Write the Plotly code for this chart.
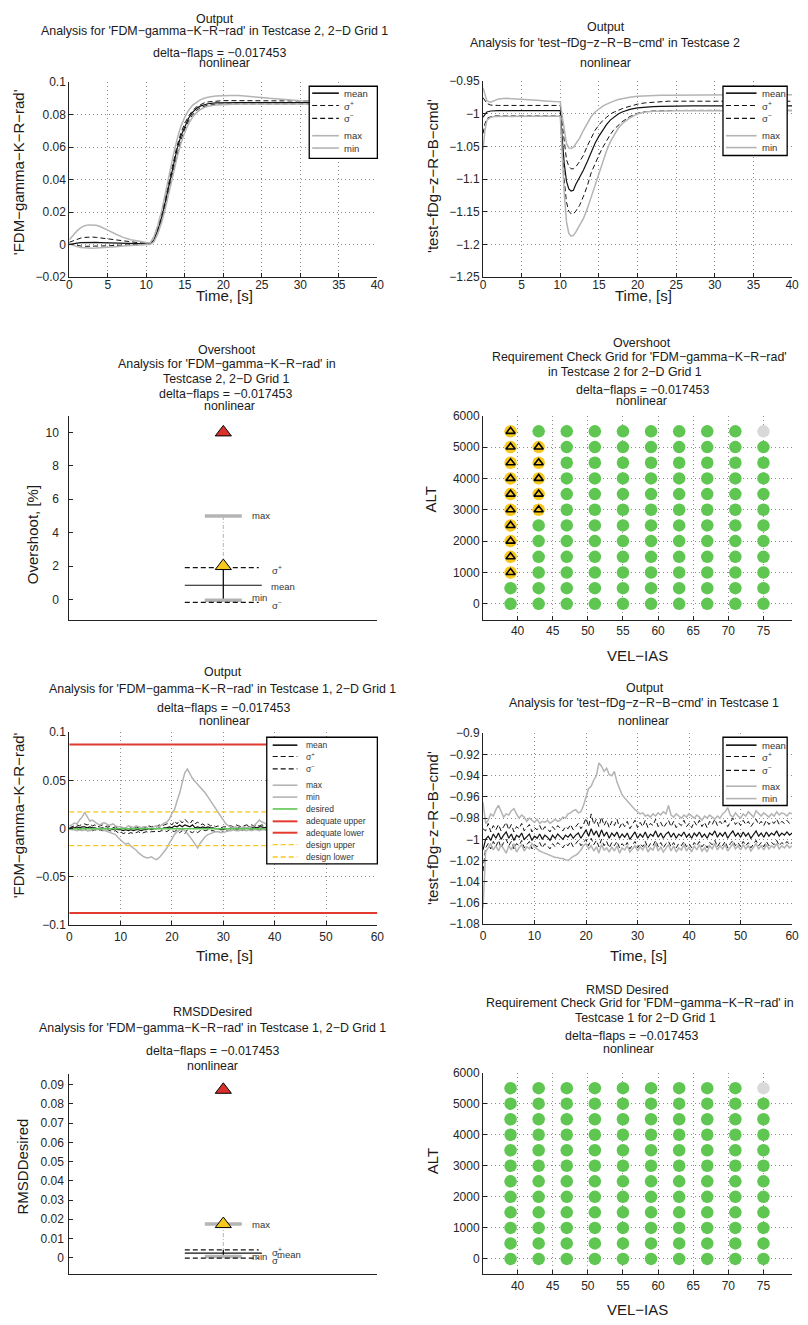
import plotly.graph_objects as go

# The page body has an 8px margin: the figure is sized so that, placed at (8, 8),
# it fills the 808x1325 window exactly.
OFF = 8
W, H = 808 - OFF, 1325 - OFF
FONT = "Liberation Sans, Arial, Helvetica, sans-serif"

# ------------------------------------------------------------------ DATA
legend_basic = ["mean", "σ<sup>+</sup>", "σ<sup>−</sup>", "max", "min"]
legend_limits = ["desired", "adequate upper", "adequate lower", "design upper", "design lower"]

# Panel 1: 'FDM-gamma-K-R-rad', Testcase 2
t_tc2_gam = [0, 0.5, 1, 1.5, 2, 2.5, 3, 3.5, 4, 4.5, 5, 6, 7, 8, 9, 10, 10.5, 11, 11.5, 12, 12.5,
             13, 13.5, 14, 14.5, 15, 15.5, 16, 16.5, 17, 17.5, 18, 19, 20, 21, 22, 23, 24, 25, 26,
             27, 28, 30, 32, 34, 36, 38, 40]
gam2_mean = [0.0, 0.0006, 0.001, 0.0013, 0.0014, 0.0015, 0.0015, 0.0014, 0.0013, 0.0012, 0.0011,
             0.0009, 0.0008, 0.0007, 0.0006, 0.0005, 0.0005, 0.003, 0.009, 0.017, 0.027, 0.038,
             0.049, 0.059, 0.067, 0.073, 0.078, 0.0815, 0.0838, 0.0853, 0.0862, 0.0868, 0.0873,
             0.0875, 0.0875, 0.0875, 0.0875, 0.0875, 0.0875, 0.0875, 0.0875, 0.0875, 0.0875,
             0.0875, 0.0875, 0.0875, 0.0875, 0.0875]
gam2_sigp = [0.0015, 0.0025, 0.0034, 0.0041, 0.0045, 0.0047, 0.0047, 0.0045, 0.0042, 0.0038, 0.0034,
             0.0027, 0.0021, 0.0016, 0.0012, 0.001, 0.0009, 0.0038, 0.0105, 0.019, 0.0295, 0.0405,
             0.0515, 0.061, 0.0688, 0.0748, 0.0792, 0.0825, 0.0848, 0.0863, 0.0873, 0.0879, 0.0885,
             0.0887, 0.0887, 0.0887, 0.0886, 0.0886, 0.0885, 0.0884, 0.0884, 0.0884, 0.0884,
             0.0883, 0.0883, 0.0883, 0.0883, 0.0883]
gam2_sigm = [0.0005, 0.0, -0.0005, -0.0008, -0.001, -0.001, -0.001, -0.001, -0.0009, -0.0008, -0.0007,
             -0.0004, -0.0002, 0.0, 0.0001, 0.0002, 0.0002, 0.0022, 0.0075, 0.015, 0.0245, 0.035,
             0.0458, 0.0558, 0.0645, 0.0712, 0.0763, 0.08, 0.0826, 0.0843, 0.0853, 0.0859, 0.0864,
             0.0866, 0.0867, 0.0867, 0.0867, 0.0867, 0.0867, 0.0867, 0.0867, 0.0867, 0.0867,
             0.0867, 0.0867, 0.0867, 0.0867, 0.0867]
gam2_max = [0.003, 0.006, 0.0085, 0.0105, 0.0117, 0.0122, 0.0123, 0.012, 0.0112, 0.0102, 0.009,
            0.0066, 0.0045, 0.003, 0.002, 0.0013, 0.0011, 0.005, 0.012, 0.021, 0.032, 0.044, 0.055,
            0.065, 0.073, 0.0785, 0.0828, 0.0858, 0.0878, 0.0892, 0.0902, 0.0908, 0.0915, 0.0918,
            0.0919, 0.0918, 0.0915, 0.0911, 0.0906, 0.0901, 0.0897, 0.0893, 0.0887, 0.0883,
            0.0881, 0.088, 0.0879, 0.0879]
gam2_min = [0.0005, -0.0005, -0.0012, -0.0017, -0.002, -0.0022, -0.0022, -0.0021, -0.002, -0.0018,
            -0.0016, -0.0012, -0.0008, -0.0004, -0.0001, 0.0001, 0.0001, 0.0018, 0.0068, 0.0138,
            0.0228, 0.0332, 0.044, 0.0538, 0.0624, 0.0693, 0.0745, 0.0784, 0.0812, 0.0831, 0.0844,
            0.0852, 0.086, 0.0863, 0.0865, 0.0866, 0.0866, 0.0866, 0.0866, 0.0866, 0.0866, 0.0866,
            0.0866, 0.0866, 0.0866, 0.0866, 0.0866, 0.0866]

# Panel 2: 'test-fDg-z-R-B-cmd', Testcase 2
t_tc2_cmd = [0, 0.25, 0.5, 1, 1.5, 2, 3, 4, 5, 6, 7, 8, 9, 10, 10.2, 10.5, 10.8, 11.1, 11.4, 11.7,
             12, 12.5, 13, 13.5, 14, 14.5, 15, 15.5, 16, 16.5, 17, 17.5, 18, 18.5, 19, 20, 21, 22,
             23, 24, 25, 27, 30, 33, 36, 40]
cmd2_mean = [-1.005, -1.0, -0.997, -0.9955, -0.995, -0.995, -0.995, -0.995, -0.995, -0.995, -0.995,
             -0.995, -0.995, -0.995, -1.03, -1.075, -1.103, -1.115, -1.118, -1.117, -1.108, -1.098,
             -1.086, -1.073, -1.058, -1.045, -1.034, -1.024, -1.016, -1.009, -1.004, -1.0, -0.997,
             -0.995, -0.993, -0.9908, -0.9895, -0.9888, -0.9883, -0.988, -0.9878, -0.9878,
             -0.9878, -0.9878, -0.9878, -0.9878]
cmd2_sigp = [-0.975, -0.98, -0.984, -0.9865, -0.987, -0.987, -0.987, -0.987, -0.987, -0.987, -0.987,
             -0.987, -0.987, -0.987, -1.01, -1.045, -1.07, -1.08, -1.084, -1.084, -1.081, -1.073,
             -1.063, -1.049, -1.036, -1.025, -1.017, -1.01, -1.005, -1.0, -0.997, -0.994, -0.992,
             -0.99, -0.988, -0.985, -0.983, -0.982, -0.981, -0.9805, -0.9805, -0.9805, -0.9805,
             -0.9805, -0.9805, -0.9805]
cmd2_sigm = [-1.03, -1.015, -1.007, -1.004, -1.003, -1.003, -1.003, -1.003, -1.003, -1.003, -1.003,
             -1.003, -1.003, -1.003, -1.04, -1.1, -1.135, -1.149, -1.153, -1.153, -1.149, -1.14,
             -1.126, -1.11, -1.09, -1.076, -1.063, -1.051, -1.04, -1.031, -1.023, -1.017, -1.012,
             -1.008, -1.004, -0.999, -0.9965, -0.9955, -0.995, -0.9948, -0.9947, -0.9946, -0.9945,
             -0.9945, -0.9945, -0.9945]
cmd2_max = [-0.96, -0.972, -0.98, -0.982, -0.979, -0.977, -0.976, -0.9765, -0.977, -0.978, -0.979,
            -0.98, -0.981, -0.9815, -1.0, -1.025, -1.045, -1.052, -1.053, -1.051, -1.046, -1.037,
            -1.025, -1.014, -1.004, -0.997, -0.992, -0.988, -0.985, -0.982, -0.98, -0.978, -0.9765,
            -0.9755, -0.9745, -0.973, -0.9722, -0.9718, -0.9715, -0.9712, -0.971, -0.9708,
            -0.9705, -0.9705, -0.9705, -0.9705]
cmd2_min = [-1.055, -1.025, -1.01, -1.005, -1.004, -1.0038, -1.0036, -1.0035, -1.0035, -1.0035,
            -1.0035, -1.0035, -1.0035, -1.0035, -1.05, -1.12, -1.165, -1.183, -1.187, -1.186,
            -1.181, -1.17, -1.16, -1.145, -1.127, -1.108, -1.09, -1.072, -1.056, -1.042, -1.031,
            -1.022, -1.015, -1.01, -1.006, -1.0, -0.997, -0.996, -0.9955, -0.9952, -0.995,
            -0.995, -0.995, -0.995, -0.995, -0.995]

# Panel 3: Overshoot statistics, [%]
os_stats = {"max": 5.0, "sigp": 1.9, "mean": 0.85, "min": -0.05, "sigm": -0.18}
os_design_limit = 2.0
os_adequate_limit = 10.0

# Grid axes (panels 4 and 8)
vel_ias = [39, 43, 47, 51, 55, 59, 63, 67, 71, 75]
alt_rows = [5500, 5000, 4500, 4000, 3500, 3000, 2500, 2000, 1500, 1000, 500, 0]
# G = requirement met, Y = design limit exceeded, N = no result
overshoot_grid = ["YGGGGGGGGN", "YYGGGGGGGG", "YYGGGGGGGG", "YYGGGGGGGG", "YYGGGGGGGG",
                  "YYGGGGGGGG", "YGGGGGGGGG", "YGGGGGGGGG", "YGGGGGGGGG", "YGGGGGGGGG",
                  "GGGGGGGGGG", "GGGGGGGGGG"]
rmsd_grid = ["GGGGGGGGGN", "GGGGGGGGGG", "GGGGGGGGGG", "GGGGGGGGGG", "GGGGGGGGGG",
             "GGGGGGGGGG", "GGGGGGGGGG", "GGGGGGGGGG", "GGGGGGGGGG", "GGGGGGGGGG",
             "GGGGGGGGGG", "GGGGGGGGGG"]

# Panels 5 and 6 time base, Testcase 1
t_tc1 = [0, 0.5, 1, 1.5, 2, 2.5, 3, 3.5, 4, 4.5, 5, 5.5, 6, 6.5, 7, 7.5, 8, 8.5, 9, 9.5,
         10, 10.5, 11, 11.5, 12, 12.5, 13, 13.5, 14, 14.5, 15, 15.5, 16, 16.5, 17, 17.5, 18, 18.5,
         19, 19.5, 20, 20.5, 21, 21.5, 22, 22.5, 23, 23.5, 24, 24.5, 25, 25.5, 26, 26.5, 27, 27.5,
         28, 28.5, 29, 29.5, 30, 30.5, 31, 31.5, 32, 32.5, 33, 33.5, 34, 34.5, 35, 35.5, 36, 36.5,
         37, 37.5, 38, 38.5, 39, 39.5, 40, 40.5, 41, 41.5, 42, 42.5, 43, 43.5, 44, 44.5, 45, 45.5,
         46, 46.5, 47, 47.5, 48, 48.5, 49, 49.5, 50, 50.5, 51, 51.5, 52, 52.5, 53, 53.5, 54, 54.5,
         55, 55.5, 56, 56.5, 57, 57.5, 58, 58.5, 59, 59.5, 60]

# Panel 5: 'FDM-gamma-K-R-rad', Testcase 1
gam1_mean = [0.000, 0.001, 0.001, 0.002, 0.001, 0.002, 0.002, 0.001, 0.002, 0.001,
             0.001, 0.000, 0.001, 0.001, 0.000, 0.001, 0.000, -0.001, 0.000, -0.001,
             -0.001, -0.002, -0.001, -0.002, -0.001, -0.002, -0.001, -0.001, -0.002, -0.001,
             -0.001, 0.000, -0.001, 0.000, 0.000, 0.001, 0.000, 0.001, 0.001, 0.002,
             0.001, 0.003, 0.002, 0.004, 0.002, 0.004, 0.003, 0.002, 0.004, 0.001,
             0.002, 0.001, 0.002, 0.001, 0.002, 0.001, 0.001, 0.000, 0.000, -0.001,
             -0.001, 0.000, 0.000, 0.001, 0.000, 0.001, 0.001, 0.000, 0.001, 0.001,
             0.002, 0.001, 0.002, 0.001, 0.002, 0.002, 0.001, 0.002, 0.001, 0.002,
             0.001, 0.002, 0.002, 0.001, 0.002, 0.001, 0.002, 0.002, 0.001, 0.002,
             0.002, 0.001, 0.002, 0.002, 0.001, 0.002, 0.001, 0.002, 0.002, 0.001,
             0.002, 0.001, 0.002, 0.002, 0.001, 0.002, 0.002, 0.001, 0.002, 0.001,
             0.002, 0.002, 0.001, 0.002, 0.001, 0.002, 0.002, 0.001, 0.002, 0.002,
             0.002]
gam1_sigp = [0.001, 0.002, 0.003, 0.004, 0.003, 0.005, 0.005, 0.004, 0.005, 0.003,
             0.004, 0.002, 0.003, 0.004, 0.002, 0.003, 0.002, 0.001, 0.002, 0.001,
             0.002, 0.000, 0.001, 0.000, 0.001, 0.000, 0.002, 0.001, 0.000, 0.002,
             0.001, 0.003, 0.002, 0.003, 0.002, 0.004, 0.003, 0.004, 0.005, 0.006,
             0.004, 0.008, 0.005, 0.009, 0.006, 0.010, 0.007, 0.005, 0.009, 0.005,
             0.007, 0.004, 0.005, 0.003, 0.005, 0.003, 0.004, 0.002, 0.003, 0.001,
             0.002, 0.002, 0.003, 0.003, 0.002, 0.004, 0.003, 0.002, 0.003, 0.004,
             0.003, 0.004, 0.003, 0.004, 0.003, 0.004, 0.003, 0.004, 0.003, 0.004,
             0.003, 0.004, 0.004, 0.003, 0.004, 0.003, 0.004, 0.004, 0.003, 0.004,
             0.004, 0.003, 0.004, 0.004, 0.003, 0.004, 0.003, 0.004, 0.004, 0.003,
             0.004, 0.003, 0.004, 0.004, 0.003, 0.004, 0.004, 0.003, 0.004, 0.003,
             0.004, 0.004, 0.003, 0.004, 0.003, 0.004, 0.004, 0.003, 0.004, 0.004,
             0.005]
gam1_sigm = [-0.001, 0.000, -0.001, 0.000, -0.001, -0.001, 0.000, -0.002, -0.001, -0.002,
             -0.001, -0.002, -0.001, -0.002, -0.002, -0.001, -0.002, -0.003, -0.002, -0.004,
             -0.003, -0.005, -0.004, -0.005, -0.004, -0.005, -0.004, -0.003, -0.005, -0.004,
             -0.003, -0.004, -0.003, -0.003, -0.002, -0.003, -0.002, -0.002, -0.003, -0.001,
             -0.002, -0.003, -0.001, -0.004, -0.002, -0.005, -0.001, -0.003, -0.004, -0.002,
             -0.004, -0.002, -0.001, -0.002, -0.001, -0.002, -0.002, -0.003, -0.003, -0.004,
             -0.003, -0.002, -0.002, -0.001, -0.002, -0.001, -0.001, -0.002, -0.001, -0.002,
             -0.001, -0.001, 0.000, -0.001, 0.000, -0.001, -0.001, 0.000, -0.001, 0.000,
             -0.001, 0.000, 0.000, -0.001, 0.000, -0.001, 0.000, 0.000, -0.001, 0.000,
             0.000, -0.001, 0.000, 0.000, -0.001, 0.000, -0.001, 0.000, 0.000, -0.001,
             0.000, -0.001, 0.000, 0.000, -0.001, 0.000, 0.000, -0.001, 0.000, -0.001,
             0.000, 0.000, -0.001, 0.000, -0.001, 0.000, 0.000, -0.001, 0.000, 0.000,
             0.000]
gam1_max = [0.003, 0.004, 0.006, 0.005, 0.009, 0.012, 0.017, 0.013, 0.008, 0.009,
            0.007, 0.005, 0.004, 0.006, 0.006, 0.004, 0.004, 0.005, 0.003, 0.002,
            0.002, 0.001, 0.001, 0.003, 0.002, 0.001, 0.003, 0.002, 0.001, 0.002,
            0.002, 0.000, 0.001, 0.002, 0.003, 0.002, 0.004, 0.006, 0.007, 0.010,
            0.016, 0.020, 0.029, 0.037, 0.048, 0.058, 0.062, 0.057, 0.052, 0.049,
            0.046, 0.044, 0.040, 0.037, 0.033, 0.029, 0.025, 0.022, 0.018, 0.013,
            0.009, 0.005, 0.003, 0.002, 0.001, 0.002, 0.000, 0.001, 0.002, 0.001,
            0.001, 0.002, 0.003, 0.006, 0.009, 0.007, 0.006, 0.004, 0.004, 0.005,
            0.005, 0.003, 0.004, 0.003, 0.004, 0.005, 0.003, 0.004, 0.005, 0.004,
            0.004, 0.003, 0.003, 0.005, 0.005, 0.004, 0.004, 0.003, 0.003, 0.004,
            0.004, 0.005, 0.005, 0.004, 0.003, 0.004, 0.004, 0.005, 0.005, 0.004,
            0.003, 0.004, 0.004, 0.005, 0.005, 0.004, 0.004, 0.005, 0.006, 0.007,
            0.009]
gam1_min = [0.000, -0.001, -0.001, -0.002, -0.001, -0.002, -0.001, -0.002, -0.002, -0.001,
            0.000, -0.001, 0.001, -0.001, -0.002, -0.003, -0.004, -0.005, -0.006, -0.009,
            -0.012, -0.014, -0.016, -0.015, -0.018, -0.020, -0.022, -0.025, -0.027, -0.029,
            -0.030, -0.030, -0.029, -0.031, -0.032, -0.030, -0.027, -0.024, -0.020, -0.015,
            -0.010, -0.006, -0.003, -0.001, 0.000, -0.002, -0.005, -0.008, -0.012, -0.016,
            -0.020, -0.015, -0.011, -0.008, -0.006, -0.005, -0.004, -0.003, -0.003, -0.004,
            -0.004, -0.003, -0.002, -0.002, -0.001, -0.002, -0.002, -0.001, -0.001, -0.002,
            -0.001, -0.002, -0.001, -0.001, -0.002, -0.001, -0.001, -0.002, -0.001, -0.002,
            -0.001, -0.002, -0.001, -0.001, -0.002, -0.001, -0.002, -0.001, -0.001, -0.002,
            -0.001, -0.002, -0.001, -0.001, -0.002, -0.001, -0.002, -0.001, -0.001, -0.002,
            -0.001, -0.001, -0.002, -0.001, -0.002, -0.001, -0.001, -0.002, -0.001, -0.001,
            -0.002, -0.001, -0.001, -0.002, -0.001, -0.001, -0.002, -0.001, -0.001, 0.000,
            0.000]
gam1_desired = 0.0
gam1_adequate = [0.0873, -0.0873]
gam1_design = [0.0175, -0.0175]

# Panel 6: 'test-fDg-z-R-B-cmd', Testcase 1
cmd1_mean = [-1.010, -1.000, -0.997, -1.001, -0.995, -0.999, -0.994, -1.000, -0.996, -0.993,
             -0.999, -0.995, -1.001, -0.996, -0.998, -0.994, -1.000, -0.997, -0.995, -1.001,
             -0.997, -0.999, -0.995, -1.000, -0.996, -0.998, -1.001, -0.996, -0.999, -0.995,
             -0.998, -1.000, -0.996, -0.998, -0.995, -0.999, -0.996, -0.994, -0.999, -0.995,
             -0.991, -0.997, -0.990, -0.996, -0.992, -0.998, -0.991, -0.997, -0.993, -0.999,
             -0.994, -0.997, -0.993, -0.999, -0.995, -0.998, -0.994, -1.000, -0.996, -0.993,
             -0.999, -0.995, -0.998, -0.993, -0.999, -0.995, -0.997, -0.992, -0.998, -0.994,
             -0.999, -0.995, -0.993, -0.998, -0.994, -0.999, -0.995, -0.997, -0.993, -0.998,
             -0.995, -0.999, -0.994, -0.997, -0.993, -0.998, -0.995, -0.999, -0.994, -0.996,
             -0.992, -0.998, -0.994, -0.997, -0.993, -0.999, -0.995, -0.992, -0.997, -0.994,
             -0.998, -0.993, -0.997, -0.994, -0.999, -0.995, -0.992, -0.997, -0.994, -0.998,
             -0.993, -0.997, -0.994, -0.996, -0.992, -0.997, -0.994, -0.996, -0.993, -0.996,
             -0.994]
cmd1_sigp = [-0.990, -0.992, -0.985, -0.993, -0.987, -0.991, -0.986, -0.992, -0.988, -0.984,
             -0.991, -0.986, -0.993, -0.988, -0.990, -0.985, -0.992, -0.989, -0.986, -0.993,
             -0.989, -0.991, -0.987, -0.992, -0.988, -0.990, -0.993, -0.988, -0.991, -0.987,
             -0.990, -0.992, -0.988, -0.990, -0.986, -0.991, -0.988, -0.985, -0.990, -0.986,
             -0.980, -0.988, -0.976, -0.986, -0.981, -0.988, -0.979, -0.987, -0.982, -0.989,
             -0.983, -0.987, -0.981, -0.989, -0.984, -0.988, -0.983, -0.990, -0.986, -0.982,
             -0.989, -0.984, -0.988, -0.982, -0.989, -0.985, -0.987, -0.981, -0.988, -0.984,
             -0.989, -0.985, -0.982, -0.988, -0.983, -0.989, -0.985, -0.987, -0.982, -0.988,
             -0.985, -0.989, -0.983, -0.987, -0.982, -0.988, -0.984, -0.989, -0.983, -0.986,
             -0.981, -0.987, -0.983, -0.986, -0.982, -0.988, -0.984, -0.980, -0.986, -0.983,
             -0.987, -0.982, -0.986, -0.983, -0.988, -0.984, -0.981, -0.986, -0.983, -0.987,
             -0.982, -0.986, -0.983, -0.985, -0.981, -0.986, -0.983, -0.985, -0.982, -0.985,
             -0.983]
cmd1_sigm = [-1.030, -1.008, -1.004, -1.009, -1.002, -1.007, -1.001, -1.008, -1.003, -1.000,
             -1.006, -1.002, -1.009, -1.004, -1.006, -1.001, -1.008, -1.005, -1.002, -1.009,
             -1.005, -1.007, -1.003, -1.008, -1.004, -1.006, -1.009, -1.004, -1.007, -1.003,
             -1.006, -1.008, -1.004, -1.006, -1.002, -1.007, -1.004, -1.001, -1.006, -1.003,
             -1.000, -1.006, -0.999, -1.005, -1.001, -1.007, -1.000, -1.006, -1.002, -1.008,
             -1.003, -1.006, -1.002, -1.008, -1.004, -1.007, -1.003, -1.009, -1.005, -1.002,
             -1.008, -1.004, -1.007, -1.002, -1.008, -1.004, -1.006, -1.001, -1.007, -1.003,
             -1.008, -1.004, -1.002, -1.007, -1.003, -1.008, -1.004, -1.006, -1.002, -1.007,
             -1.004, -1.008, -1.003, -1.006, -1.002, -1.007, -1.004, -1.008, -1.003, -1.005,
             -1.001, -1.007, -1.003, -1.006, -1.002, -1.008, -1.004, -1.001, -1.006, -1.003,
             -1.007, -1.002, -1.006, -1.003, -1.008, -1.004, -1.001, -1.006, -1.003, -1.007,
             -1.002, -1.006, -1.003, -1.005, -1.001, -1.006, -1.003, -1.005, -1.002, -1.005,
             -1.003]
cmd1_max = [-0.965, -0.985, -0.982, -0.976, -0.978, -0.972, -0.968, -0.974, -0.979, -0.976,
            -0.977, -0.973, -0.971, -0.976, -0.980, -0.977, -0.979, -0.983, -0.980, -0.982,
            -0.984, -0.981, -0.985, -0.983, -0.984, -0.982, -0.985, -0.983, -0.981, -0.983,
            -0.982, -0.979, -0.980, -0.976, -0.975, -0.973, -0.972, -0.975, -0.974, -0.968,
            -0.960, -0.952, -0.950, -0.944, -0.940, -0.928, -0.931, -0.936, -0.933, -0.939,
            -0.940, -0.936, -0.946, -0.952, -0.958, -0.961, -0.964, -0.967, -0.970, -0.972,
            -0.974, -0.976, -0.975, -0.978, -0.977, -0.979, -0.976, -0.978, -0.975, -0.977,
            -0.974, -0.976, -0.968, -0.977, -0.979, -0.976, -0.978, -0.980, -0.977, -0.979,
            -0.976, -0.978, -0.980, -0.977, -0.979, -0.982, -0.978, -0.980, -0.977, -0.979,
            -0.981, -0.978, -0.980, -0.976, -0.974, -0.970, -0.977, -0.979, -0.975, -0.978,
            -0.980, -0.976, -0.978, -0.974, -0.977, -0.979, -0.973, -0.976, -0.978, -0.975,
            -0.977, -0.979, -0.976, -0.978, -0.974, -0.977, -0.975, -0.976, -0.978, -0.975,
            -0.976]
cmd1_min = [-1.065, -1.012, -1.008, -1.004, -1.010, -1.006, -1.011, -1.005, -1.009, -1.013,
            -1.006, -1.010, -1.004, -1.012, -1.008, -1.005, -1.011, -1.007, -1.009, -1.004,
            -1.007, -1.009, -1.011, -1.012, -1.013, -1.014, -1.015, -1.016, -1.017, -1.017,
            -1.018, -1.018, -1.019, -1.020, -1.018, -1.016, -1.015, -1.013, -1.010, -1.006,
            -1.004, -1.009, -1.006, -1.011, -1.007, -1.013, -1.005, -1.010, -1.008, -1.012,
            -1.007, -1.011, -1.006, -1.013, -1.008, -1.010, -1.006, -1.012, -1.009, -1.006,
            -1.011, -1.007, -1.010, -1.005, -1.012, -1.008, -1.010, -1.004, -1.011, -1.007,
            -1.012, -1.008, -1.005, -1.011, -1.006, -1.012, -1.008, -1.010, -1.005, -1.011,
            -1.007, -1.012, -1.006, -1.010, -1.005, -1.011, -1.008, -1.012, -1.006, -1.009,
            -1.004, -1.010, -1.006, -1.009, -1.005, -1.011, -1.007, -1.004, -1.009, -1.006,
            -1.010, -1.005, -1.009, -1.006, -1.011, -1.007, -1.004, -1.009, -1.006, -1.010,
            -1.005, -1.009, -1.006, -1.008, -1.004, -1.009, -1.006, -1.008, -1.005, -1.008,
            -1.006]

# Panel 7: RMSDDesired statistics
rmsd_stats = {"max": 0.0175, "sigp": 0.0041, "mean": 0.0024, "min": 0.0007, "sigm": -0.0002}
rmsd_design_limit = 0.0175
rmsd_adequate_limit = 0.0873

# ------------------------------------------------------------------ STYLE
BLACK = "#111111"
GRAY = "#b4b4b4"
RED = "#e23a2e"
YEL = "#f7c81e"
GRN = "#5ec651"
DASH = "5px,3px"
TICKFONT = dict(family=FONT, size=12, color="#262626")
TITLE_SIZE = 12.4
LABEL_SIZE = 15

fig = go.Figure()
shapes = []
annotations = []


def px(x):
    return (x - OFF) / W


def py(y):
    return 1 - (y - OFF) / H


def text(x, y, s, size=11, anchor="center", angle=0, color="#1a1a1a"):
    annotations.append(dict(x=px(x), y=py(y), xref="paper", yref="paper", text=s,
                            showarrow=False, xanchor=anchor, yanchor="middle",
                            textangle=angle, font=dict(family=FONT, size=size, color=color)))


def sfx(n):
    return "" if n == 1 else str(n)


def axes(n, xpx, ypx, xr, yr, xdt, ydt, xt0=0, yt0=0, grid=True, xlabels=True, ystand=0,
         xstand=0):
    s = sfx(n)
    common = dict(showline=True, linecolor="#222222", linewidth=1, mirror=False,
                  ticks="inside", ticklen=4, tickcolor="#222222", showgrid=grid,
                  gridcolor="#8c8c8c", griddash="1px,3px", gridwidth=1, zeroline=False,
                  tickfont=TICKFONT, tickmode="linear", fixedrange=True)
    xa = dict(common, domain=[px(xpx[0]), px(xpx[1])], range=xr, anchor="y" + s,
              tick0=xt0, dtick=xdt, showticklabels=xlabels, ticklabelstandoff=xstand)
    if not xlabels:
        xa["ticks"] = ""
    ya = dict(common, domain=[py(ypx[1]), py(ypx[0])], range=yr, anchor="x" + s,
              tick0=yt0, dtick=ydt, ticklabelstandoff=ystand)
    fig.update_layout(**{"xaxis" + s: xa, "yaxis" + s: ya})


def line(n, x, y, color, width, dash=None):
    s = sfx(n)
    fig.add_trace(go.Scatter(x=x, y=y, mode="lines", xaxis="x" + s, yaxis="y" + s,
                             line=dict(color=color, width=width, dash=dash),
                             hoverinfo="skip", showlegend=False))


def marker(n, x, y, symbol, size, color, lcolor="black", lwidth=1):
    s = sfx(n)
    fig.add_trace(go.Scatter(x=x, y=y, mode="markers", xaxis="x" + s, yaxis="y" + s,
                             marker=dict(symbol=symbol, size=size, color=color,
                                         line=dict(color=lcolor, width=lwidth)),
                             hoverinfo="skip", showlegend=False))


def legend(box, labels, styles, ys, sx0, sx1, tx, size=9.5):
    shapes.append(dict(type="rect", xref="paper", yref="paper", x0=px(box[0]), x1=px(box[2]),
                       y0=py(box[3]), y1=py(box[1]), line=dict(color="black", width=1.3),
                       fillcolor="white", layer="above"))
    for lab, st, y in zip(labels, styles, ys):
        shapes.append(dict(type="line", xref="paper", yref="paper", x0=px(sx0), x1=px(sx1),
                           y0=py(y), y1=py(y), layer="above",
                           line=dict(color=st[0], width=st[1], dash=st[2])))
        text(tx, y, lab, size=size, anchor="left", color="#333333")


def titles(lines, size=TITLE_SIZE):
    for s, cx, cy in lines:
        text(cx, cy, s, size=size)


def stat_labels(n, items):
    for lab, xx, yy in items:
        annotations.append(dict(x=xx, y=yy, xref="x" + sfx(n), yref="y" + sfx(n), text=lab,
                                showarrow=False, xanchor="left", yanchor="middle",
                                font=dict(family=FONT, size=9.5, color="#333333")))


STAT_STYLES = [(BLACK, 1.6, None), (BLACK, 1.1, DASH), (BLACK, 1.1, DASH),
               (GRAY, 1.6, None), (GRAY, 1.6, None)]
LIMIT_STYLES = [(GRN, 1.6, None), (RED, 2, None), (RED, 2, None),
                (YEL, 1.4, DASH), (YEL, 1.4, DASH)]


def stat_lines(n, t, mean, sigp, sigm, mx, mn):
    line(n, t, mean, BLACK, 1.2)
    line(n, t, sigp, BLACK, 1, DASH)
    line(n, t, sigm, BLACK, 1, DASH)
    line(n, t, mx, GRAY, 1.5)
    line(n, t, mn, GRAY, 1.5)


def stat_box(n, st, design, adequate):
    line(n, [0.5, 0.5], [st["max"], st["sigp"]], GRAY, 1, "4px,2px,1px,2px")
    line(n, [0.5, 0.5], [st["min"], st["sigp"]], BLACK, 1.3)
    line(n, [0.44, 0.56], [st["max"]] * 2, GRAY, 3.5)
    line(n, [0.44, 0.56], [st["min"]] * 2, GRAY, 3.5)
    line(n, [0.375, 0.615], [st["sigp"]] * 2, BLACK, 1.2, DASH)
    line(n, [0.375, 0.625], [st["mean"]] * 2, BLACK, 1.2)
    line(n, [0.375, 0.615], [st["sigm"]] * 2, BLACK, 1.2, DASH)
    marker(n, [0.5], [design], "triangle-up", 14, YEL)
    marker(n, [0.5], [adequate], "triangle-up", 14, "#d9302b")


# ------------------------------------------------------------------ PANEL 1
axes(1, (67, 379), (76, 273), [0, 40], [-0.02, 0.1], 5, 0.02, 0, -0.02, xstand=-4)
stat_lines(1, t_tc2_gam, gam2_mean, gam2_sigp, gam2_sigm, gam2_max, gam2_min)
titles([("Output", 215, 12),
        ("Analysis for 'FDM−gamma−K−R−rad' in Testcase 2, 2−D Grid 1", 214, 24),
        ("delta−flaps = −0.017453", 219, 46), ("nonlinear", 224, 57)])
text(15, 167, "'FDM−gamma−K−R−rad'", size=LABEL_SIZE, angle=-90)
text(224, 292, "Time, [s]", size=LABEL_SIZE)
legend((310, 80, 379, 153), legend_basic, STAT_STYLES, [87, 99.5, 112.5, 130, 142.5],
       313, 340, 343)

# ------------------------------------------------------------------ PANEL 2
axes(2, (486, 799), (75, 273), [0, 40], [-1.25, -0.95], 5, 0.05, 0, -1.25, xstand=-4)
stat_lines(2, t_tc2_cmd, cmd2_mean, cmd2_sigp, cmd2_sigm, cmd2_max, cmd2_min)
titles([("Output", 611, 20), ("Analysis for 'test−fDg−z−R−B−cmd' in Testcase 2", 610, 36),
        ("nonlinear", 610, 57)])
text(435, 171, "'test−fDg−z−R−B−cmd'", size=LABEL_SIZE, angle=-90)
text(648, 292, "Time, [s]", size=LABEL_SIZE)
legend((729, 80, 794, 150), legend_basic, STAT_STYLES, [87, 99.5, 112.5, 130, 142],
       732, 763, 766)

# ------------------------------------------------------------------ PANEL 3
axes(3, (67, 379), (413, 619), [0, 1], [-1.2, 11], 1, 2, 0, 0, grid=False, xlabels=False,
     ystand=7)
stat_box(3, os_stats, os_design_limit, os_adequate_limit)
stat_labels(3, [("max", 0.585, os_stats["max"]), ("σ<sup>+</sup>", 0.65, 1.75),
                ("mean", 0.647, os_stats["mean"] - 0.05), ("min", 0.585, 0.12),
                ("σ<sup>−</sup>", 0.65, -0.35)])
titles([("Overshoot", 227, 347), ("Analysis for 'FDM−gamma−K−R−rad' in", 227, 361),
        ("Testcase 2, 2−D Grid 1", 226, 376), ("delta−flaps = −0.017453", 225, 391),
        ("nonlinear", 229, 403)])
text(30, 533, "Overshoot, [%]", size=LABEL_SIZE, angle=-90)


# ------------------------------------------------------------------ GRID PANELS
def grid_panel(n, status):
    groups = {"G": ([], []), "Y": ([], []), "N": ([], [])}
    for r, a in enumerate(alt_rows):
        for c, v in enumerate(vel_ias):
            groups[status[r][c]][0].append(v)
            groups[status[r][c]][1].append(a)
    marker(n, groups["G"][0], groups["G"][1], "circle", 12.5, GRN, GRN, 0)
    marker(n, groups["N"][0], groups["N"][1], "circle", 12.5, "#d9d9d9", "#d9d9d9", 0)
    if groups["Y"][0]:
        marker(n, groups["Y"][0], groups["Y"][1], "circle", 12.5, YEL, YEL, 0)
        marker(n, groups["Y"][0], groups["Y"][1], "triangle-up-open", 8, "black", "black", 1.6)


axes(4, (486, 799), (413, 619), [35.08, 79.08], [-500, 6000], 5, 1000, 40, 0)
grid_panel(4, overshoot_grid)
titles([("Overshoot", 647, 340), ("Requirement Check Grid for 'FDM−gamma−K−R−rad'", 644, 354),
        ("in Testcase 2 for 2−D Grid 1", 630, 369), ("delta−flaps = −0.017453", 647, 387),
        ("nonlinear", 646, 398)])
text(433, 498, "ALT", size=LABEL_SIZE, angle=-90)
text(642, 655, "VEL−IAS", size=LABEL_SIZE)

# ------------------------------------------------------------------ PANEL 5
axes(5, (67, 379), (733, 928), [0, 60], [-0.1, 0.1], 10, 0.05, 0, -0.1)
stat_lines(5, t_tc1, gam1_mean, gam1_sigp, gam1_sigm, gam1_max, gam1_min)
line(5, [0, 60], [gam1_desired] * 2, GRN, 1.6)
line(5, [0, 60], [gam1_adequate[0]] * 2, RED, 2)
line(5, [0, 60], [gam1_adequate[1]] * 2, RED, 2)
line(5, [0, 60], [gam1_design[0]] * 2, YEL, 1.4, DASH)
line(5, [0, 60], [gam1_design[1]] * 2, YEL, 1.4, DASH)
titles([("Output", 223, 672),
        ("Analysis for 'FDM−gamma−K−R−rad' in Testcase 1, 2−D Grid 1", 222, 689),
        ("delta−flaps = −0.017453", 223, 708), ("nonlinear", 224, 722)])
text(15, 817, "'FDM−gamma−K−R−rad'", size=LABEL_SIZE, angle=-90)
text(224, 959, "Time, [s]", size=LABEL_SIZE)
legend((267, 738, 379, 866), legend_basic + legend_limits, STAT_STYLES + LIMIT_STYLES,
       [746, 757.5, 770, 786.5, 798.5, 810.5, 823, 834.5, 846.5, 859], 273, 298, 305,
       size=8.5)

# ------------------------------------------------------------------ PANEL 6
axes(6, (486, 799), (734, 927), [0, 60], [-1.08, -0.9], 10, 0.02, 0, -1.08)
stat_lines(6, t_tc1, cmd1_mean, cmd1_sigp, cmd1_sigm, cmd1_max, cmd1_min)
titles([("Output", 650, 688), ("Analysis for 'test−fDg−z−R−B−cmd' in Testcase 1", 649, 703),
        ("nonlinear", 648, 722)])
text(435, 830, "'test−fDg−z−R−B−cmd'", size=LABEL_SIZE, angle=-90)
text(643, 959, "Time, [s]", size=LABEL_SIZE)
legend((729, 738, 794, 807), legend_basic, STAT_STYLES, [746, 757.5, 771.5, 787.5, 800],
       732, 763, 766)

# ------------------------------------------------------------------ PANEL 7
axes(7, (67, 379), (1078, 1281), [0, 1], [-0.0087, 0.0957], 1, 0.01, 0, 0,
     grid=False, xlabels=False, ystand=2)
stat_box(7, rmsd_stats, rmsd_design_limit, rmsd_adequate_limit)
stat_labels(7, [("max", 0.585, rmsd_stats["max"]), ("σ<sup>+</sup>", 0.653, 0.0028),
                ("mean", 0.667, 0.0017), ("min", 0.585, 0.0006),
                ("σ<sup>−</sup>", 0.653, -0.0014)])
titles([("RMSDDesired", 212, 1016),
        ("Analysis for 'FDM−gamma−K−R−rad' in Testcase 1, 2−D Grid 1", 212, 1032),
        ("delta−flaps = −0.017453", 212, 1055), ("nonlinear", 212, 1070)])
text(20, 1172, "RMSDDesired", size=LABEL_SIZE, angle=-90)

# ------------------------------------------------------------------ PANEL 8
axes(8, (486, 799), (1077, 1281), [35.08, 79.08], [-500, 6000], 5, 1000, 40, 0)
grid_panel(8, rmsd_grid)
titles([("RMSD Desired", 632, 993),
        ("Requirement Check Grid for 'FDM−gamma−K−R−rad' in", 645, 1007),
        ("Testcase 1 for 2−D Grid 1", 651, 1022), ("delta−flaps = −0.017453", 636, 1040),
        ("nonlinear", 633, 1053)])
text(435, 1167, "ALT", size=LABEL_SIZE, angle=-90)
text(642, 1316, "VEL−IAS", size=LABEL_SIZE)

fig.update_layout(width=W, height=H, margin=dict(l=0, r=0, t=0, b=0),
                  paper_bgcolor="white", plot_bgcolor="white", showlegend=False,
                  font=dict(family=FONT), shapes=shapes, annotations=annotations)
fig.write_html("out.html")
